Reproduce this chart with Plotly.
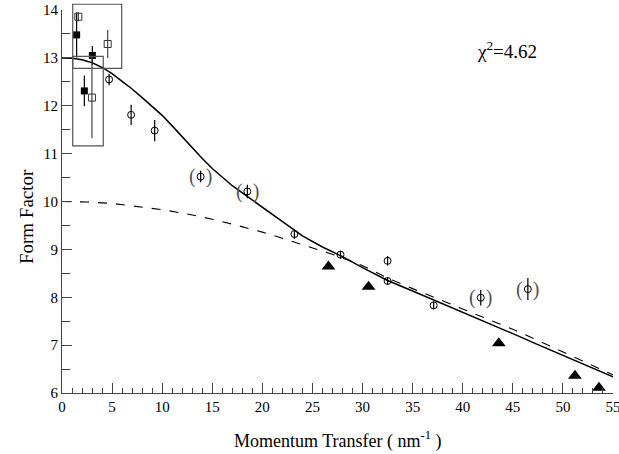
import plotly.graph_objects as go

# ---- data ----
# open circles (main data set)
circ_x = [4.7, 6.9, 9.25, 23.2, 27.8, 32.5, 32.5, 37.1]
circ_y = [12.55, 11.81, 11.48, 9.32, 8.89, 8.76, 8.34, 7.83]
circ_err = [0.12, 0.21, 0.22, 0.10, 0.08, 0.10, 0.08, 0.08]

# open circles shown in parentheses
paren_x = [13.84, 18.5, 41.8, 46.5]
paren_y = [10.52, 10.21, 7.99, 8.17]
paren_err = [0.12, 0.14, 0.16, 0.23]

# filled squares
fsq_x = [1.46, 3.03, 2.23]
fsq_y = [13.48, 13.05, 12.31]
fsq_err = [0.47, 0.2, 0.32]

# open squares
osq_x = [1.63, 4.56, 2.99]
osq_y = [13.86, 13.29, 12.17]
osq_err = [0.1, 0.29, 0.85]

# filled triangles
tri_x = [26.6, 30.6, 43.6, 51.2, 53.6]
tri_y = [8.64, 8.22, 7.04, 6.36, 6.11]

# solid fit curve
fit_x = [0, 1, 2, 3, 4, 5, 6, 7, 8, 9, 10, 11, 12, 13, 14, 15, 16, 17, 18, 19, 20, 22, 24, 26, 28, 30, 32.5, 35, 37.5, 40, 42.5, 45, 47.5, 50, 52.5, 55]
fit_y = [13.0, 12.99, 12.96, 12.9, 12.8, 12.67, 12.51, 12.35, 12.17, 11.99, 11.8, 11.58, 11.35, 11.12, 10.9, 10.69, 10.5, 10.33, 10.18, 10.03, 9.88, 9.57, 9.28, 9.05, 8.85, 8.62, 8.35, 8.13, 7.91, 7.69, 7.46, 7.24, 7.01, 6.79, 6.57, 6.34]

# dashed curve
dash_x = [0, 2.5, 5, 7.5, 10, 12.5, 15, 17.5, 20, 22.5, 25, 27.5, 30, 32.5, 35, 37.5, 40, 42.5, 45, 47.5, 50, 52.5, 55]
dash_y = [10.0, 9.99, 9.96, 9.9, 9.83, 9.74, 9.63, 9.5, 9.36, 9.2, 9.03, 8.86, 8.66, 8.4, 8.18, 7.97, 7.76, 7.55, 7.33, 7.1, 6.86, 6.62, 6.38]

# highlight boxes (x0, x1, y0, y1 in data units)
box1 = [1.07, 5.96, 12.78, 14.12]
box2 = [1.07, 4.12, 11.16, 13.03]

x_range = [0, 55]
y_range = [6, 14]
chi_text = "χ<sup>2</sup>=4.62"

FONT = "Liberation Serif, Times New Roman, serif"

fig = go.Figure()

fig.add_trace(go.Scatter(x=dash_x, y=dash_y, mode="lines", line=dict(color="black", width=1.1, dash="dash"), hoverinfo="skip"))
fig.add_trace(go.Scatter(x=fit_x, y=fit_y, mode="lines", line=dict(color="black", width=1.5), hoverinfo="skip"))

def err(e, color="black"):
    return dict(type="data", array=e, visible=True, color=color, thickness=1.2, width=0)

fig.add_trace(go.Scatter(x=circ_x, y=circ_y, mode="markers",
                         marker=dict(symbol="circle-open", size=7, color="black", line=dict(width=1)),
                         error_y=err(circ_err)))
fig.add_trace(go.Scatter(x=paren_x, y=paren_y, mode="markers",
                         marker=dict(symbol="circle-open", size=7, color="black", line=dict(width=1)),
                         error_y=err(paren_err)))
for px_, py_ in zip(paren_x, paren_y):
    fig.add_annotation(x=px_, y=py_, xref="x", yref="y", text="(  )", showarrow=False,
                       xanchor="center", yanchor="middle",
                       font=dict(family=FONT, size=20, color="#555555"))
fig.add_trace(go.Scatter(x=fsq_x, y=fsq_y, mode="markers",
                         marker=dict(symbol="square", size=7, color="black"),
                         error_y=err(fsq_err)))
fig.add_trace(go.Scatter(x=osq_x, y=osq_y, mode="markers",
                         marker=dict(symbol="square-open", size=7, color="#333333", line=dict(width=1)),
                         error_y=err(osq_err, "#444444")))
fig.add_trace(go.Scatter(x=tri_x, y=tri_y, mode="markers",
                         marker=dict(symbol="triangle-up", size=12, color="black")))

def to_paper(v):
    return (v - y_range[0]) / (y_range[1] - y_range[0])

for b in (box1, box2):
    fig.add_shape(type="rect", xref="x", yref="paper", x0=b[0], x1=b[1],
                  y0=to_paper(b[2]), y1=to_paper(b[3]),
                  line=dict(color="#555555", width=1.2), fillcolor="rgba(0,0,0,0)")

axis_common = dict(showline=True, linecolor="#444444", linewidth=1.2, showgrid=False, zeroline=False,
                   ticks="inside", tickcolor="#444444", tickwidth=1.2, ticklabeloverflow="allow",
                   automargin=False,
                   tickfont=dict(family=FONT, size=15, color="black"), mirror=False)

fig.update_xaxes(range=x_range, dtick=5, tick0=0, ticklen=10,
                 minor=dict(dtick=1, ticks="inside", ticklen=5, tickcolor="#444444", tickwidth=1),
                 **axis_common)
fig.update_yaxes(range=y_range, dtick=1, tick0=6, ticklen=10,
                 minor=dict(dtick=0.5, ticks="inside", ticklen=8, tickcolor="#444444", tickwidth=1),
                 **axis_common)

fig.add_annotation(text="Momentum Transfer ( nm<sup>-1</sup> )", xref="paper", yref="paper",
                   x=0.5, y=-0.122, xanchor="center", yanchor="middle", showarrow=False,
                   font=dict(family=FONT, size=18, color="black"))
fig.add_annotation(text="Form Factor", xref="paper", yref="paper", textangle=-90,
                   x=-0.063, y=0.46, xanchor="center", yanchor="middle", showarrow=False,
                   font=dict(family=FONT, size=19, color="black"))
fig.add_annotation(text=chi_text, xref="paper", yref="paper",
                   x=0.808, y=0.896, xanchor="center", yanchor="middle", showarrow=False,
                   font=dict(family=FONT, size=19, color="black"))

fig.update_layout(width=619, height=454, showlegend=False,
                  margin=dict(l=62, r=6, t=10, b=61, autoexpand=False),
                  paper_bgcolor="white", plot_bgcolor="white",
                  font=dict(family=FONT))

fig.write_html("out.html", config={"displayModeBar": False},
               post_script="document.body.style.margin='0';document.body.style.overflow='hidden';")
